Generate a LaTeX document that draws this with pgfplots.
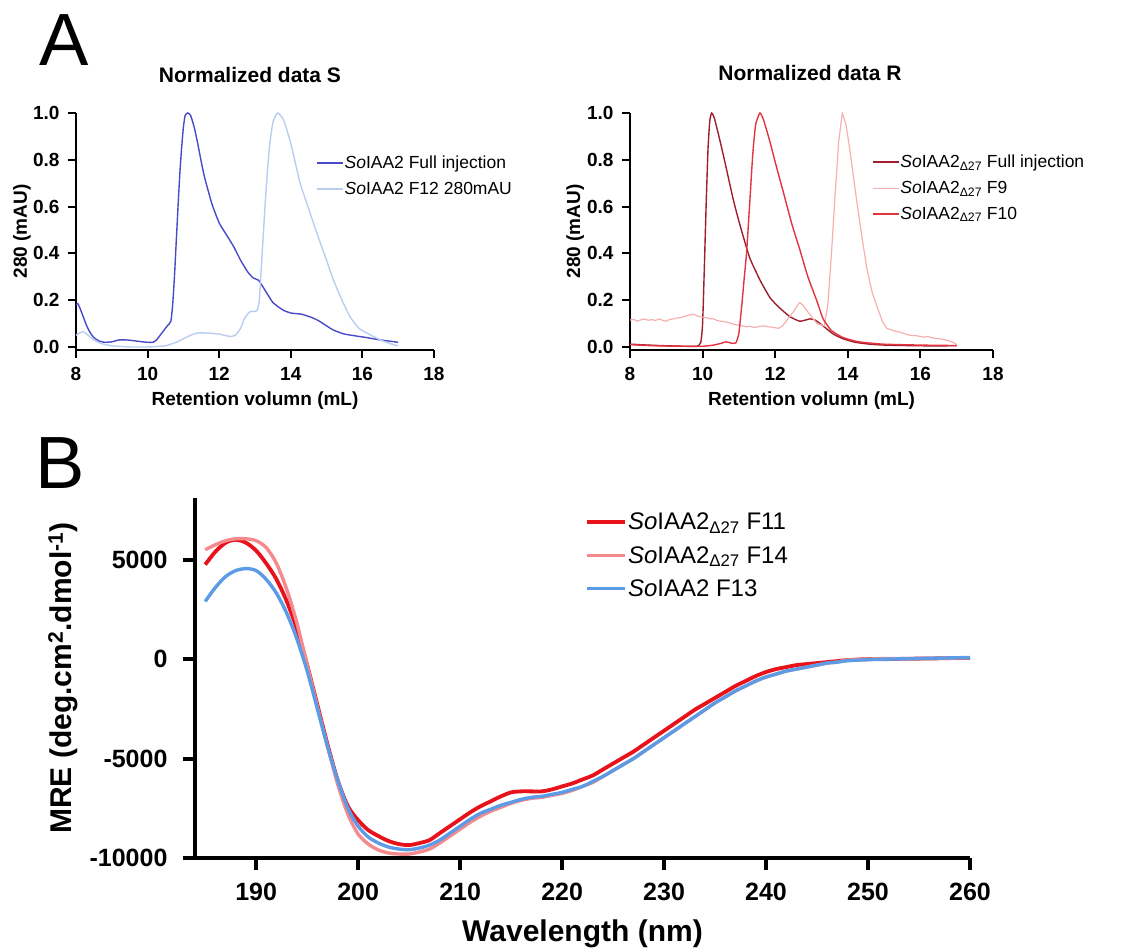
\documentclass[border=0pt]{standalone}
\usepackage{fontspec}
\setmainfont{Liberation Sans}
\usepackage{pgfplots}
\pgfplotsset{compat=1.18}

\definecolor{sfull}{HTML}{4A4AC8}
\definecolor{sfrac}{HTML}{B9CDEF}
\definecolor{rfull}{HTML}{9E1E2E}
\definecolor{rnine}{HTML}{F5B0B0}
\definecolor{rten}{HTML}{E2343F}
\definecolor{celeven}{HTML}{E8121B}
\definecolor{cfourteen}{HTML}{F48A8C}
\definecolor{cthirteen}{HTML}{5C9CE6}

\pgfplotsset{
  prism/.style={
    scale only axis,
    axis lines=left,
    axis line style={-, line width=#1, black},
    tick style={line width=#1, black},
    tick align=outside,
    /pgf/number format/assume math mode=true,
    legend cell align=left,
  },
  seca/.style={
    prism=2pt,
    width=#1, height=237pt,
    xmin=8, xmax=18, ymin=-0.013, ymax=1.0,
    xtick={8,10,12,14,16,18}, ytick={0,0.2,0.4,0.6,0.8,1.0},
    major tick length=8pt,
    yticklabel style={/pgf/number format/fixed, /pgf/number format/fixed zerofill, /pgf/number format/precision=1, xshift=-5pt},
    xticklabel style={yshift=-6pt},
    ticklabel style={font=\fontsize{19}{22}\selectfont\bfseries},
    xlabel={Retention volumn (mL)},
    ylabel={280 (mAU)},
    every axis x label/.style={at={(axis description cs:0.5,-0.212)}, anchor=center, font=\fontsize{19}{22}\selectfont\bfseries},
    every axis y label/.style={at={(axis description cs:-0.151,0.5)}, rotate=90, anchor=center, font=\fontsize{19}{22}\selectfont\bfseries},
    legend style={draw=none, fill=none, anchor=north west, row sep=10pt,
      font=\fontsize{17.5}{20}\selectfont, nodes={inner sep=1pt},
      /tikz/every even column/.append style={column sep=12pt}},
    legend image code/.code={\draw[##1] (0pt,0pt) -- (26pt,0pt);},
  },
}

\begin{document}
\begin{tikzpicture}
\path[use as bounding box] (0,0) rectangle (1127pt,951pt);

% panel letters and titles
\node[font=\fontsize{74}{80}\selectfont] at (64pt,911pt) {A};
\node[font=\fontsize{74}{80}\selectfont] at (60pt,488pt) {B};
\node[font=\fontsize{21}{24}\selectfont\bfseries] at (250pt,876pt) {Normalized data S};
\node[font=\fontsize{21}{24}\selectfont\bfseries] at (810pt,878pt) {Normalized data R};

% ---- A, left: S ----
\begin{axis}[seca=358pt, at={(76pt,601pt)}, anchor=south west,
  legend style={at={(axis description cs:0.662,0.832)}}]
\addplot[sfull, line width=1.4pt, smooth, tension=0.3] table {
8.00 0.18
8.05 0.185
8.10 0.17
8.20 0.13
8.30 0.09
8.40 0.06
8.50 0.04
8.65 0.025
8.80 0.02
9.00 0.022
9.20 0.03
9.40 0.03
9.60 0.027
9.80 0.023
10.00 0.02
10.15 0.02
10.25 0.03
10.40 0.06
10.55 0.09
10.65 0.11
10.70 0.18
10.75 0.30
10.80 0.45
10.85 0.60
10.90 0.74
10.95 0.85
11.00 0.94
11.05 0.99
11.12 1.00
11.20 0.99
11.30 0.94
11.40 0.87
11.50 0.79
11.60 0.72
11.80 0.61
12.00 0.53
12.20 0.48
12.40 0.43
12.60 0.37
12.80 0.32
12.95 0.295
13.10 0.285
13.25 0.25
13.50 0.19
13.78 0.158
14.00 0.145
14.30 0.14
14.60 0.125
14.80 0.11
15.00 0.09
15.18 0.073
15.50 0.055
16.12 0.04
16.50 0.03
17.00 0.02
};
\addlegendentry{\textit{So}IAA2 Full injection}
\addplot[sfrac, line width=1.4pt, smooth, tension=0.3] table {
8.00 0.05
8.10 0.06
8.20 0.065
8.30 0.055
8.50 0.03
8.70 0.015
9.00 0.005
9.50 0.0
10.00 0.0
10.50 0.005
10.80 0.02
11.00 0.035
11.20 0.05
11.40 0.06
11.60 0.06
11.80 0.058
12.00 0.055
12.30 0.045
12.45 0.05
12.60 0.08
12.70 0.12
12.85 0.15
13.05 0.155
13.12 0.2
13.20 0.40
13.30 0.65
13.40 0.85
13.50 0.96
13.63 1.00
13.80 0.97
14.00 0.87
14.26 0.70
14.50 0.59
14.72 0.49
15.00 0.37
15.18 0.29
15.40 0.21
15.65 0.13
15.90 0.08
16.12 0.06
16.50 0.03
16.86 0.01
17.00 0.005
};
\addlegendentry{\textit{So}IAA2 F12 280mAU}
\end{axis}

% ---- A, right: R ----
\begin{axis}[seca=363pt, at={(630pt,601pt)}, anchor=south west,
  legend style={at={(axis description cs:0.658,0.836)}}]
\addplot[rfull, line width=1.4pt, smooth, tension=0.3] table {
8.0 0.012
8.5 0.008
9.0 0.005
9.5 0.003
9.85 0.003
9.95 0.02
10.0 0.10
10.05 0.35
10.10 0.62
10.15 0.85
10.20 0.97
10.25 1.00
10.32 0.98
10.45 0.90
10.60 0.80
10.86 0.62
11.05 0.51
11.30 0.38
11.60 0.28
11.86 0.21
12.10 0.17
12.40 0.13
12.68 0.11
12.96 0.12
13.10 0.115
13.32 0.09
13.60 0.055
13.87 0.035
14.20 0.02
14.60 0.012
15.0 0.008
16.0 0.005
17.0 0.005
};
\addlegendentry{\textit{So}IAA2\textsubscript{Δ27} Full injection}
\addplot[rnine, line width=1.2pt] table {
8.0 0.115
8.1 0.118
8.2 0.11
8.3 0.116
8.4 0.12
8.5 0.114
8.6 0.117
8.7 0.113
8.8 0.12
8.9 0.114
9.0 0.11
9.1 0.118
9.2 0.12
9.3 0.124
9.4 0.125
9.5 0.131
9.6 0.135
9.75 0.14
9.9 0.13
10.0 0.128
10.1 0.125
10.2 0.121
10.3 0.12
10.4 0.113
10.5 0.11
10.6 0.108
10.7 0.105
10.8 0.1
10.9 0.095
11.0 0.093
11.1 0.09
11.2 0.086
11.3 0.088
11.4 0.084
11.5 0.085
11.6 0.089
11.7 0.09
11.8 0.086
11.9 0.085
12.0 0.082
12.1 0.08
12.2 0.09
12.3 0.11
12.4 0.13
12.5 0.15
12.6 0.175
12.68 0.19
12.78 0.175
12.85 0.16
13.0 0.13
13.15 0.10
13.35 0.09
13.45 0.18
13.55 0.40
13.65 0.65
13.75 0.88
13.85 1.00
13.95 0.95
14.05 0.85
14.24 0.63
14.38 0.48
14.52 0.34
14.66 0.24
14.80 0.175
14.95 0.11
15.07 0.08
15.25 0.07
15.44 0.063
15.6 0.055
15.7 0.05
15.9 0.048
16.0 0.044
16.1 0.042
16.2 0.045
16.3 0.04
16.45 0.036
16.6 0.034
16.8 0.025
16.9 0.02
17.0 0.01
};
\addlegendentry{\textit{So}IAA2\textsubscript{Δ27} F9}
\addplot[rten, line width=1.4pt, smooth, tension=0.3] table {
8.0 0.01
8.5 0.006
9.0 0.004
9.5 0.003
10.0 0.003
10.3 0.008
10.5 0.015
10.65 0.022
10.80 0.016
10.92 0.018
11.00 0.06
11.08 0.18
11.15 0.30
11.21 0.40
11.30 0.62
11.38 0.82
11.46 0.95
11.58 1.00
11.68 0.97
11.85 0.88
12.00 0.79
12.21 0.67
12.45 0.53
12.68 0.415
12.90 0.30
13.14 0.20
13.32 0.12
13.55 0.07
13.87 0.04
14.3 0.022
14.97 0.012
16.0 0.008
17.0 0.006
};
\addlegendentry{\textit{So}IAA2\textsubscript{Δ27} F10}
\end{axis}

% ---- B: CD spectra ----
\begin{axis}[prism=4pt, at={(195pt,93pt)}, anchor=south west,
  width=775pt, height=360pt,
  xmin=184, xmax=260, ymin=-10000, ymax=8100,
  xtick={190,200,210,220,230,240,250,260}, ytick={-10000,-5000,0,5000},
  scaled y ticks=false,
  /pgf/number format/1000 sep={},
  major tick length=12pt,
  ticklabel style={font=\fontsize{25}{28}\selectfont\bfseries},
  xticklabel style={yshift=-10pt},
  yticklabel style={xshift=-12pt},
  xlabel={Wavelength (nm)},
  ylabel={MRE (deg.cm\textsuperscript{2}.dmol\textsuperscript{-1})},
  every axis x label/.style={at={(axis description cs:0.5,-0.21)}, anchor=center, font=\fontsize{30}{34}\selectfont\bfseries},
  every axis y label/.style={at={(axis description cs:-0.17,0.5)}, rotate=90, anchor=center, font=\fontsize{30}{34}\selectfont\bfseries},
  legend style={draw=none, fill=none, anchor=north west, row sep=13pt,
    at={(axis description cs:0.4994,0.967)},
    font=\fontsize{24}{27}\selectfont, nodes={inner sep=1pt},
    /tikz/every even column/.append style={column sep=20pt}},
  legend image code/.code={\draw[#1] (0pt,0pt) -- (38pt,0pt);},
]
\addplot[celeven, line width=3.8pt, smooth, tension=0.5] table {
185 4750
186 5400
187 5850
188 6000
189 5850
190 5450
191 4800
192 4000
193 2900
194 1500
195 -300
196 -2300
197 -4300
198 -6100
199 -7400
200 -8100
201 -8600
202 -8900
203 -9150
204 -9300
205 -9350
206 -9250
207 -9100
208 -8750
209 -8400
210 -8050
211 -7700
212 -7400
213 -7150
214 -6900
215 -6700
216 -6650
217 -6650
218 -6650
219 -6550
220 -6400
221 -6250
222 -6050
223 -5850
224 -5550
225 -5250
226 -4950
227 -4650
228 -4300
229 -3950
230 -3600
231 -3250
232 -2900
233 -2550
234 -2250
235 -1950
236 -1650
237 -1350
238 -1100
239 -850
240 -650
241 -500
242 -400
243 -300
244 -250
245 -200
246 -150
247 -100
248 -50
250 0
252 0
254 20
256 30
258 50
260 60
};
\addlegendentry{\textit{So}IAA2\textsubscript{Δ27} F11}
\addplot[cfourteen, line width=3.4pt, smooth, tension=0.5] table {
185 5500
186 5750
187 5950
188 6050
189 6050
190 5950
191 5600
192 4800
193 3500
194 1800
195 -300
196 -2400
197 -4400
198 -6300
199 -7800
200 -8800
201 -9300
202 -9600
203 -9750
204 -9800
205 -9800
206 -9700
207 -9550
208 -9250
209 -8900
210 -8550
211 -8200
212 -7900
213 -7650
214 -7450
215 -7250
216 -7100
217 -7000
218 -6950
219 -6850
220 -6750
221 -6600
222 -6400
223 -6200
224 -5900
225 -5600
226 -5300
227 -5000
228 -4650
229 -4300
230 -3950
231 -3600
232 -3250
233 -2900
234 -2550
235 -2200
236 -1900
237 -1600
238 -1350
239 -1100
240 -900
241 -750
242 -600
243 -500
244 -400
245 -300
246 -200
247 -150
248 -50
250 0
252 30
254 0
256 30
258 50
260 60
};
\addlegendentry{\textit{So}IAA2\textsubscript{Δ27} F14}
\addplot[cthirteen, line width=3.4pt, smooth, tension=0.5] table {
185 2900
186 3600
187 4150
188 4450
189 4550
190 4450
191 4000
192 3300
193 2300
194 1000
195 -600
196 -2500
197 -4400
198 -6100
199 -7500
200 -8400
201 -8950
202 -9250
203 -9450
204 -9550
205 -9580
206 -9500
207 -9350
208 -9100
209 -8750
210 -8400
211 -8050
212 -7750
213 -7550
214 -7350
215 -7200
216 -7050
217 -6950
218 -6900
219 -6800
220 -6700
221 -6550
222 -6400
223 -6150
224 -5900
225 -5600
226 -5300
227 -5000
228 -4650
229 -4300
230 -3950
231 -3600
232 -3250
233 -2900
234 -2550
235 -2200
236 -1900
237 -1600
238 -1350
239 -1100
240 -900
241 -750
242 -600
243 -500
244 -400
245 -300
246 -200
247 -150
248 -80
250 -30
252 0
254 20
256 40
258 60
260 80
};
\addlegendentry{\textit{So}IAA2 F13}
\end{axis}
\end{tikzpicture}
\end{document}
